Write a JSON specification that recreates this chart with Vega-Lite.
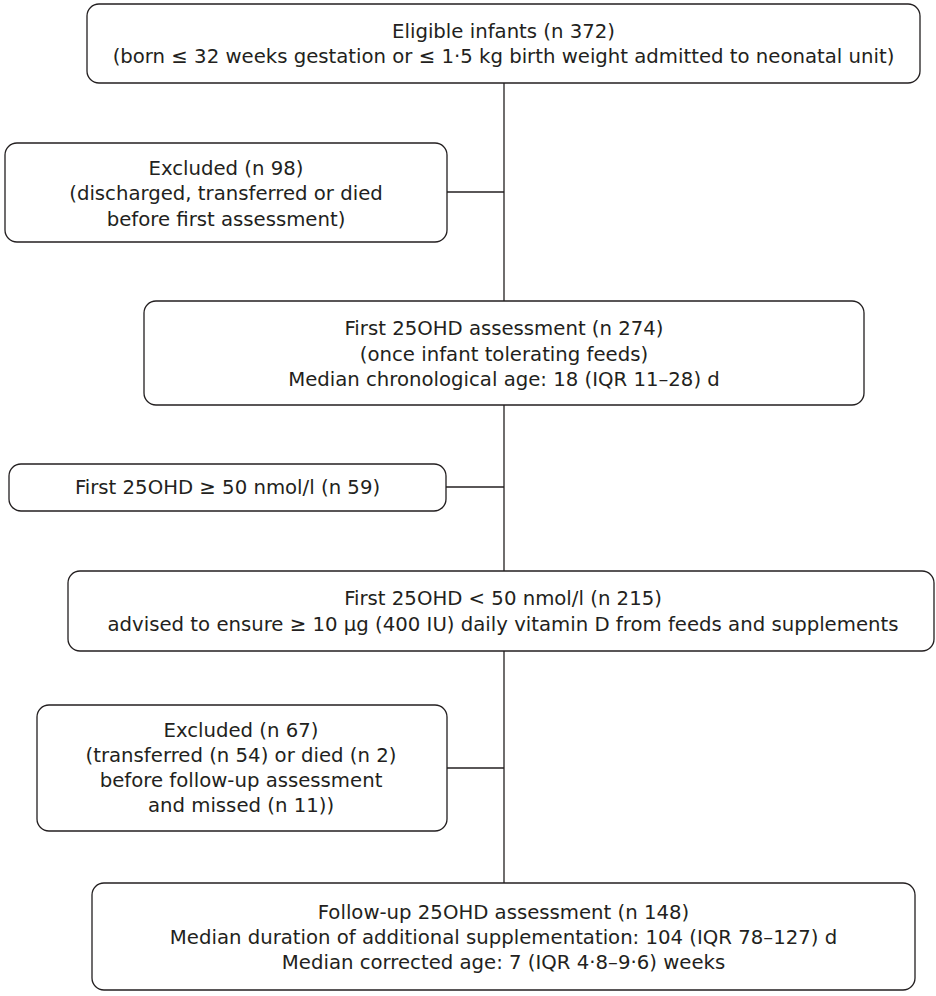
{
  "$schema": "https://vega.github.io/schema/vega-lite/v6.json",
  "width": 936,
  "height": 996,
  "padding": 0,
  "autosize": {"type": "fit", "contains": "padding"},
  "background": "white",
  "config": {"view": {"stroke": null}},
  "datasets": {
    "links": [
      {"x1": 504, "x2": 504, "y1": 83, "y2": 883},
      {"x1": 447, "x2": 504, "y1": 192, "y2": 192},
      {"x1": 446, "x2": 504, "y1": 487, "y2": 487},
      {"x1": 447, "x2": 504, "y1": 768, "y2": 768}
    ],
    "boxes": [
      {"box": "Eligible", "x1": 87, "x2": 920, "y1": 4, "y2": 83},
      {"box": "Excluded 98", "x1": 5, "x2": 447, "y1": 143, "y2": 242},
      {"box": "First assessment", "x1": 144, "x2": 864, "y1": 301, "y2": 405},
      {"box": "First >= 50", "x1": 9, "x2": 446, "y1": 464, "y2": 511},
      {"box": "First < 50", "x1": 68, "x2": 934, "y1": 571, "y2": 651},
      {"box": "Excluded 67", "x1": 37, "x2": 447, "y1": 705, "y2": 831},
      {"box": "Follow-up", "x1": 92, "x2": 915, "y1": 883, "y2": 990}
    ],
    "labels": [
      {"x": 503.5, "y": 32, "text": "Eligible infants (n 372)"},
      {"x": 503.5, "y": 57, "text": "(born ≤ 32 weeks gestation or ≤ 1·5 kg birth weight admitted to neonatal unit)"},
      {"x": 226, "y": 169, "text": "Excluded (n 98)"},
      {"x": 226, "y": 194, "text": "(discharged, transferred or died"},
      {"x": 226, "y": 220, "text": "before first assessment)"},
      {"x": 504, "y": 329, "text": "First 25OHD assessment (n 274)"},
      {"x": 504, "y": 355, "text": "(once infant tolerating feeds)"},
      {"x": 504, "y": 380, "text": "Median chronological age: 18 (IQR 11–28) d"},
      {"x": 227.5, "y": 488, "text": "First 25OHD ≥ 50 nmol/l (n 59)"},
      {"x": 503, "y": 599, "text": "First 25OHD < 50 nmol/l (n 215)"},
      {"x": 503, "y": 625, "text": "advised to ensure ≥ 10 µg (400 IU) daily vitamin D from feeds and supplements"},
      {"x": 241, "y": 731, "text": "Excluded (n 67)"},
      {"x": 241, "y": 756, "text": "(transferred (n 54) or died (n 2)"},
      {"x": 241, "y": 781, "text": "before follow-up assessment"},
      {"x": 241, "y": 806, "text": "and missed (n 11))"},
      {"x": 503.5, "y": 913, "text": "Follow-up 25OHD assessment (n 148)"},
      {"x": 503.5, "y": 938, "text": "Median duration of additional supplementation: 104 (IQR 78–127) d"},
      {"x": 503.5, "y": 963, "text": "Median corrected age: 7 (IQR 4·8–9·6) weeks"}
    ]
  },
  "layer": [
    {
      "data": {"name": "links"},
      "mark": {"type": "rule", "color": "#231f20", "strokeWidth": 1.3},
      "encoding": {
        "x": {"field": "x1", "type": "quantitative", "scale": {"domain": [0, 936], "nice": false, "zero": false}, "axis": null},
        "x2": {"field": "x2"},
        "y": {"field": "y1", "type": "quantitative", "scale": {"domain": [0, 996], "nice": false, "zero": false, "reverse": true}, "axis": null},
        "y2": {"field": "y2"}
      }
    },
    {
      "data": {"name": "boxes"},
      "mark": {"type": "rect", "fill": "white", "stroke": "#231f20", "strokeWidth": 1.3, "cornerRadius": 12},
      "encoding": {
        "x": {"field": "x1", "type": "quantitative", "scale": {"domain": [0, 936], "nice": false, "zero": false}, "axis": null},
        "x2": {"field": "x2"},
        "y": {"field": "y1", "type": "quantitative", "scale": {"domain": [0, 996], "nice": false, "zero": false, "reverse": true}, "axis": null},
        "y2": {"field": "y2"}
      }
    },
    {
      "data": {"name": "labels"},
      "mark": {"type": "text", "font": "DejaVu Sans", "fontSize": 19.7, "color": "#231f20", "align": "center", "baseline": "middle"},
      "encoding": {
        "x": {"field": "x", "type": "quantitative", "scale": {"domain": [0, 936], "nice": false, "zero": false}, "axis": null},
        "y": {"field": "y", "type": "quantitative", "scale": {"domain": [0, 996], "nice": false, "zero": false, "reverse": true}, "axis": null},
        "text": {"field": "text", "type": "nominal"}
      }
    }
  ]
}
